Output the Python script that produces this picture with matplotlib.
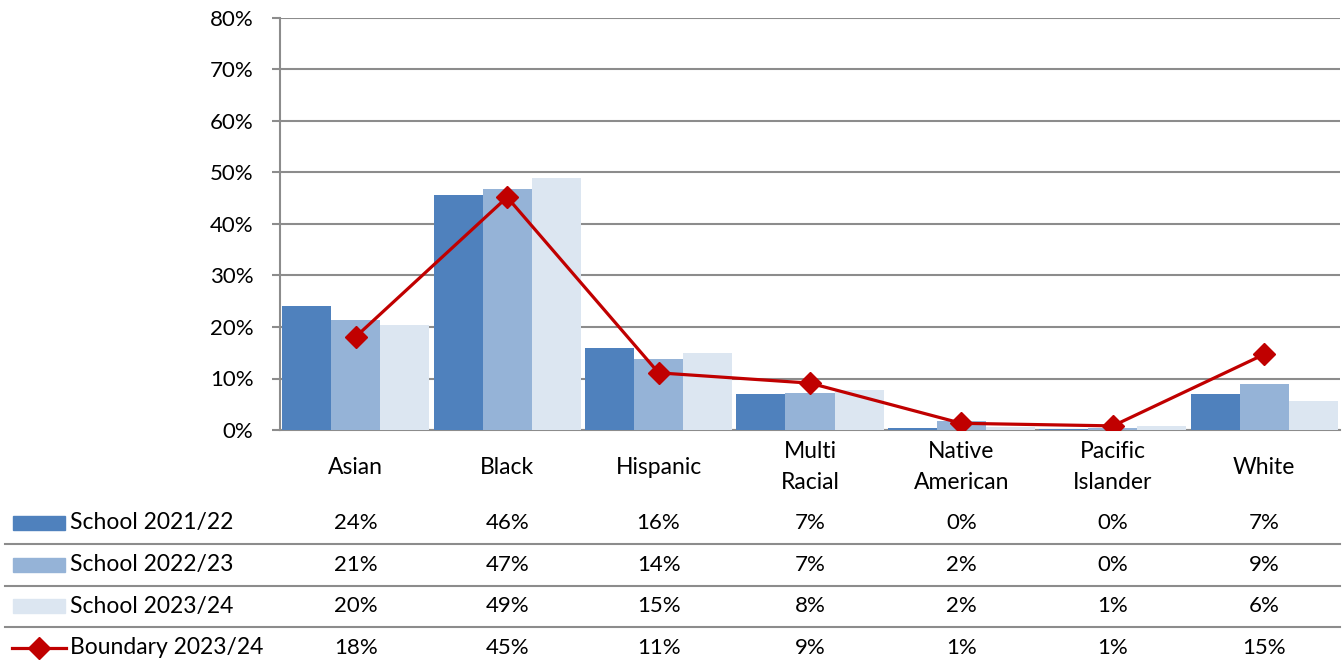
import matplotlib.pyplot as plt
import numpy as np
from matplotlib.patches import Rectangle
from matplotlib.lines import Line2D
import matplotlib.transforms as mtransforms

plt.rcParams['font.family'] = ['Lato', 'DejaVu Sans']

categories = ['Asian', 'Black', 'Hispanic', 'Multi\nRacial', 'Native\nAmerican', 'Pacific\nIslander', 'White']
series_names = ['School 2021/22', 'School 2022/23', 'School 2023/24', 'Boundary 2023/24']
school_2122 = [24.1, 45.7, 15.9, 6.9, 0.4, 0.1, 6.9]
school_2223 = [21.4, 46.8, 13.7, 7.2, 1.7, 0.4, 8.9]
school_2324 = [20.4, 48.9, 15.0, 7.7, 0.6, 0.8, 5.7]
boundary_2324 = [18.1, 45.2, 11.1, 9.1, 1.3, 0.8, 14.7]
table_text = [
    ['24%', '46%', '16%', '7%', '0%', '0%', '7%'],
    ['21%', '47%', '14%', '7%', '2%', '0%', '9%'],
    ['20%', '49%', '15%', '8%', '2%', '1%', '6%'],
    ['18%', '45%', '11%', '9%', '1%', '1%', '15%'],
]
yticks = [0, 10, 20, 30, 40, 50, 60, 70, 80]

bar_colors = ['#4F81BD', '#95B3D7', '#DCE6F1']
line_color = '#C00000'
grid_color = '#8C8C8C'

W, H = 1342, 664
fig = plt.figure(figsize=(W / 100, H / 100), dpi=100)
ax = fig.add_axes([280 / W, 1 - 430 / H, 1060 / W, 412 / H])

x = np.arange(len(categories))
bw = 0.324
for i, vals in enumerate([school_2122, school_2223, school_2324]):
    ax.bar(x + (i - 1) * bw, vals, width=bw, color=bar_colors[i], zorder=3)
ax.plot(x, boundary_2324, color=line_color, linewidth=2.3, marker='D', markersize=11, zorder=4)

ax.set_xlim(-0.5, len(categories) - 0.5)
ax.set_ylim(0, 80)
ax.set_yticks(yticks)
ax.set_yticklabels([f'{t}%' for t in yticks], fontsize=16)
ax.yaxis.grid(True, color=grid_color, linewidth=1.5, zorder=0)
ax.set_xticks([])
for s in ['top', 'right']:
    ax.spines[s].set_visible(False)
for s in ['left', 'bottom']:
    ax.spines[s].set_color(grid_color)
    ax.spines[s].set_linewidth(1.5)
ax.tick_params(axis='y', length=6, width=1.5, color=grid_color, pad=13)

# category labels and data table
trans = mtransforms.blended_transform_factory(ax.transData, fig.transFigure)
for i, c in enumerate(categories):
    fig.text(x[i], 1 - 467 / H, c, transform=trans, ha='center', va='center',
             fontsize=16.5, linespacing=1.6)

row_y = [523, 565, 606, 648]
sep_y = [544, 586, 627]
for r in range(4):
    yf = 1 - row_y[r] / H
    for i in range(len(categories)):
        fig.text(x[i], yf, table_text[r][i], transform=trans, ha='center', va='center', fontsize=16)
    fig.text(70 / W, yf, series_names[r], ha='left', va='center', fontsize=16.5)
    if r < 3:
        fig.patches.append(Rectangle((13 / W, 1 - (row_y[r] + 7) / H), 52 / W, 14 / H,
                                     transform=fig.transFigure, color=bar_colors[r]))
    else:
        fig.lines.append(Line2D([12 / W, 66 / W], [yf, yf], transform=fig.transFigure,
                                color=line_color, linewidth=2.3))
        fig.lines.append(Line2D([39 / W], [yf], transform=fig.transFigure, color=line_color,
                                marker='D', markersize=11))
for sy in sep_y:
    fig.lines.append(Line2D([5 / W, 1340 / W], [1 - sy / H, 1 - sy / H], transform=fig.transFigure,
                            color=grid_color, linewidth=1.5))

fig.savefig('out.png', dpi=100)
